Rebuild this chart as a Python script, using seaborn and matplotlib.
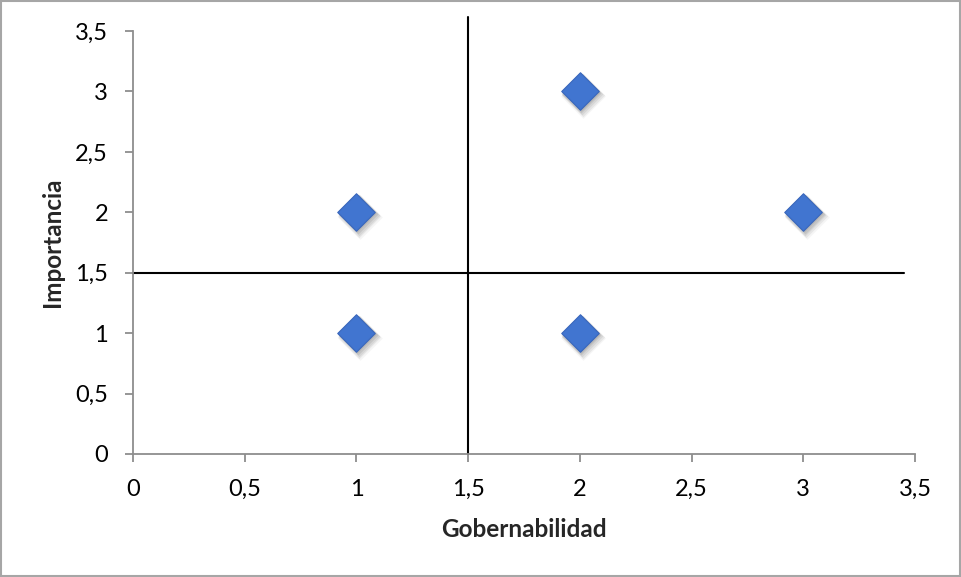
import matplotlib
matplotlib.use("Agg")
import matplotlib.pyplot as plt
import matplotlib.transforms as mtrans
from matplotlib.patches import Rectangle
import seaborn as sns
import pandas as pd

gobernabilidad = [1, 1, 2, 2, 3]
importancia = [2, 1, 3, 1, 2]
x_ticks = [0, 0.5, 1, 1.5, 2, 2.5, 3, 3.5]
y_ticks = [0, 0.5, 1, 1.5, 2, 2.5, 3, 3.5]
tick_labels = ["0", "0,5", "1", "1,5", "2", "2,5", "3", "3,5"]
cut_x = 1.5
cut_y = 1.5

df = pd.DataFrame({"Gobernabilidad": gobernabilidad, "Importancia": importancia})

sns.set_style("white")
plt.rcParams["font.family"] = ["Lato", "DejaVu Sans"]

fig = plt.figure(figsize=(9.61, 5.77), dpi=100)
ax = fig.add_axes([133 / 961, 1 - 454 / 577, (915 - 133) / 961, (454 - 31) / 577])

axis_grey = "#8e8e8e"

# quadrant lines
ax.plot([cut_x, cut_x], [0, 3.615], color="black", lw=1.5, clip_on=False, zorder=2)
ax.plot([0, 3.45], [cut_y, cut_y], color="black", lw=1.5, clip_on=False, zorder=2)

# soft shadow layers
for i, (dx, a) in enumerate([(1, 0.08), (2, 0.08), (3, 0.07), (4, 0.06), (5, 0.04)]):
    tr = mtrans.offset_copy(ax.transData, fig=fig, x=dx * 0.7, y=-dx, units="dots")
    ax.scatter(gobernabilidad, importancia, marker="D", s=380 + 35 * i,
               color="black", alpha=a, linewidths=0, transform=tr, zorder=3,
               clip_on=False)

sns.scatterplot(data=df, x="Gobernabilidad", y="Importancia", marker="D",
                s=365, color="#4175d0", edgecolor="#3a67bb", linewidth=0.8,
                ax=ax, zorder=4, clip_on=False)

ax.set_xlim(0, 3.5)
ax.set_ylim(0, 3.5)
ax.set_xticks(x_ticks)
ax.set_yticks(y_ticks)
ax.set_xticklabels(tick_labels)
ax.set_yticklabels(tick_labels)

for side in ["top", "right"]:
    ax.spines[side].set_visible(False)
for side in ["left", "bottom"]:
    ax.spines[side].set_color(axis_grey)
    ax.spines[side].set_linewidth(1.3)

ax.tick_params(axis="both", which="major", direction="out", length=6, width=1.3,
               color=axis_grey, labelsize=17, labelcolor="black", pad=12,
               left=True, bottom=True)

ax.set_xlabel("Gobernabilidad", fontsize=17.5, fontweight="bold", labelpad=13)
ax.set_ylabel("Importancia", fontsize=17.5, fontweight="bold", labelpad=8)

# outer chart border
fig.patches.append(Rectangle((1 / 961, 1 / 577), 959 / 961, 575 / 577,
                             transform=fig.transFigure, fill=False,
                             edgecolor="#a6a6a6", linewidth=1.5))

fig.savefig("out.png", dpi=100)
